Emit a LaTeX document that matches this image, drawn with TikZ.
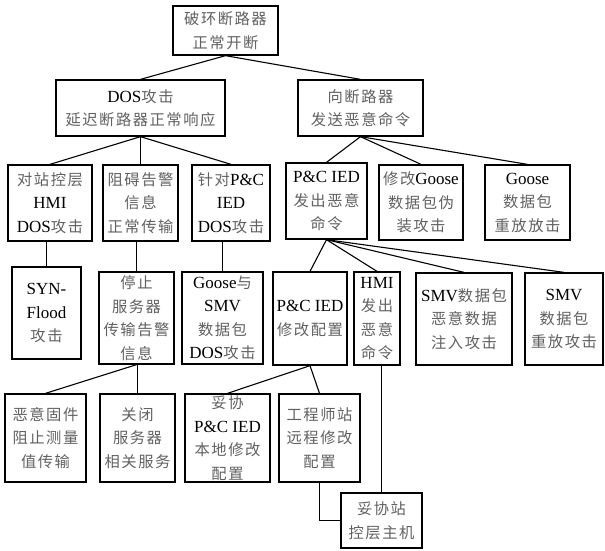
\documentclass[tikz,border=0pt]{standalone}
\usepackage{fontspec}
\setmainfont{Liberation Serif}
\newfontfamily\cjk[Scale=0.9,LetterSpace=10]{Noto Sans CJK SC}
\definecolor{zhtext}{gray}{0.38}
\newcommand\zh[1]{{\cjk\color{zhtext}#1}}
\begin{document}
\begin{tikzpicture}[x=1pt,y=-1pt,
  box/.style={draw=black, line width=1.3pt, fill=white, align=center,
    inner sep=0pt, font=\fontsize{17}{23.5}\selectfont},
  link/.style={draw=black, line width=1.1pt}]
\useasboundingbox (0,0) rectangle (605,550);

% top level
\node[box, minimum width=105, minimum height=49] (root) at (225.5,30.5) {\zh{破环断路器}\\\zh{正常开断}};

% second level
\node[box, minimum width=169, minimum height=56] (dos) at (140.5,108) {DOS\zh{攻击}\\\zh{延迟断路器正常响应}};
\node[box, minimum width=125, minimum height=56] (cmd) at (360.5,108) {\zh{向断路器}\\\zh{发送恶意命令}};

% third level
\node[box, minimum width=84, minimum height=76] (a1) at (50,203) {\zh{对站控层}\\HMI\\DOS\zh{攻击}};
\node[box, minimum width=75, minimum height=76] (a2) at (140.5,203) {\zh{阻碍告警}\\\zh{信息}\\\zh{正常传输}};
\node[box, minimum width=78, minimum height=76] (a3) at (231,203) {\zh{针对}P\&C\\IED\\DOS\zh{攻击}};
\node[box, minimum width=81, minimum height=76] (b1) at (326.5,201) {P\&C IED\\\zh{发出恶意}\\\zh{命令}};
\node[box, minimum width=84, minimum height=75] (b2) at (421,202.5) {\zh{修改}Goose\\\zh{数据包伪}\\\zh{装攻击}};
\node[box, minimum width=85, minimum height=75] (b3) at (527.5,202.5) {Goose\\\zh{数据包}\\\zh{重放放击}};

% fourth level
\node[box, minimum width=69, minimum height=92] (c1) at (46.5,313) {SYN-\\Flood\\\zh{攻击}};
\node[box, minimum width=75, minimum height=92] (c2) at (136.5,318) {\zh{停止}\\\zh{服务器}\\\zh{传输告警}\\\zh{信息}};
\node[box, minimum width=81, minimum height=92] (c3) at (222.5,318) {Goose\zh{与}\\SMV\\\zh{数据包}\\DOS\zh{攻击}};
\node[box, minimum width=74, minimum height=93] (d1) at (310,318.5) {P\&C IED\\\zh{修改配置}};
\node[box, minimum width=46, minimum height=93] (d2) at (377,318.5) {HMI\\\zh{发出}\\\zh{恶意}\\\zh{命令}};
\node[box, minimum width=96, minimum height=92] (d3) at (464,319) {SMV\zh{数据包}\\\zh{恶意数据}\\\zh{注入攻击}};
\node[box, minimum width=78, minimum height=92] (d4) at (564,319) {SMV\\\zh{数据包}\\\zh{重放攻击}};

% fifth level
\node[box, minimum width=81, minimum height=88] (e1) at (45.5,438) {\zh{恶意固件}\\\zh{阻止测量}\\\zh{值传输}};
\node[box, minimum width=75, minimum height=88] (e2) at (137.5,438) {\zh{关闭}\\\zh{服务器}\\\zh{相关服务}};
\node[box, minimum width=85, minimum height=88] (f1) at (227.5,438) {\zh{妥协}\\P\&C IED\\\zh{本地修改}\\\zh{配置}};
\node[box, minimum width=81, minimum height=88] (f2) at (319.5,438) {\zh{工程师站}\\\zh{远程修改}\\\zh{配置}};

% bottom
\node[box, minimum width=81, minimum height=55] (g) at (381.5,520.5) {\zh{妥协站}\\\zh{控层主机}};

% connectors
\draw[link] (root.south) -- (dos.north);
\draw[link] (root.south) -- (cmd.north);
\draw[link] (dos.south) -- (a1.north);
\draw[link] (dos.south) -- (a2.north);
\draw[link] (dos.south) -- (a3.north);
\draw[link] (cmd.south) -- (b1.north);
\draw[link] (cmd.south) -- (b2.north);
\draw[link] (cmd.south) -- (b3.north);
\draw[link] (c1.north |- a1.south) -- (c1.north);
\draw[link] (c2.north |- a2.south) -- (c2.north);
\draw[link] (c3.north |- a3.south) -- (c3.north);
\draw[link] (b1.south) -- (d1.north);
\draw[link] (b1.south) -- (d2.north);
\draw[link] (b1.south) -- (d3.north);
\draw[link] (b1.south) -- (d4.north);
\draw[link] (c2.south) -- (e1.north);
\draw[link] (e2.north |- c2.south) -- (e2.north);
\draw[link] (d1.south) -- (f1.north);
\draw[link] (d1.south) -- (f2.north);
\draw[link] (f2.south) |- (g.west);
\draw[link] (g.north |- d2.south) -- (g.north);
\end{tikzpicture}
\end{document}
